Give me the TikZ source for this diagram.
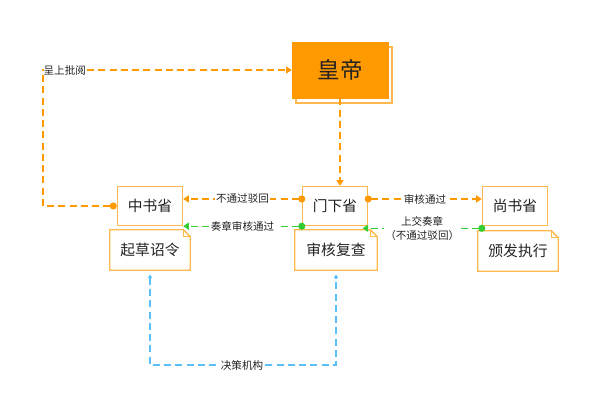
\documentclass[tikz,border=0pt]{standalone}
\usepackage{fontspec}
\setmainfont{Noto Sans CJK SC}
\usetikzlibrary{arrows.meta}
\definecolor{hdorange}{HTML}{FF9900}
\definecolor{boxorange}{HTML}{FFB84D}
\definecolor{lnorange}{HTML}{FF9900}
\definecolor{lngreen}{HTML}{33CC33}
\definecolor{lnblue}{HTML}{5BC0F8}
\definecolor{txt}{HTML}{222222}
\begin{document}
\begin{tikzpicture}[x=0.025cm, y=-0.025cm,
  office/.style={draw=boxorange, line width=1pt, fill=white, text=txt, font=\fontsize{10.5}{12}\selectfont, minimum width=1.625cm, minimum height=0.975cm, inner sep=0pt},
  notebox/.style={text=txt, font=\fontsize{10.5}{12}\selectfont, minimum width=2cm, minimum height=1cm, inner sep=0pt},
  noteline/.style={draw=boxorange, line width=1pt, line join=miter},
  lbl/.style={fill=white, text=txt, font=\fontsize{7.5}{10}\selectfont, inner sep=1pt, align=center},
  oline/.style={draw=lnorange, line width=1pt, dash pattern=on 5pt off 3pt},
  gline/.style={draw=lngreen, line width=1pt, dash pattern=on 5pt off 3pt},
  bline/.style={draw=lnblue, line width=1pt, dash pattern=on 5pt off 3pt},
  dotarrow/.style={{Circle[length=5pt]}-{Triangle[width=5pt,length=4pt]}}]
\useasboundingbox (0,0) rectangle (600,414);
\draw[boxorange, line width=1pt, fill=white] (296,47) rectangle (392,103);
\node[draw=hdorange, fill=hdorange, text=txt, font=\fontsize{16}{18}\selectfont, minimum width=2.4cm, minimum height=1.4cm] (huangdi) at (340,70) {皇帝};
\node[office] (zhongshu) at (150,206) {中书省};
\node[office] (menxia) at (335,206) {门下省};
\node[office] (shangshu) at (515,206) {尚书省};
\node[notebox] (qicao) at (150,250) {起草诏令};
\node[notebox, minimum width=2.05cm] (shenhe) at (336,250) {审核复查};
\node[notebox] (banfa) at (518,251) {颁发执行};
\foreach \n in {qicao,shenhe,banfa} {
  \draw[noteline] (\n.north west) -- ([xshift=-5pt]\n.north east) -- ([yshift=-5pt]\n.north east) -- (\n.south east) -- (\n.south west) -- cycle;
  \draw[noteline] ([xshift=-5pt]\n.north east) |- ([yshift=-5pt]\n.north east);
}
\coordinate (bend) at (43,70);
\coordinate (base) at (242,365);
\draw[oline, dotarrow] (zhongshu.west) -| (bend) -- node[lbl, pos=0, anchor=west, inner xsep=0pt] {呈上批阅} (huangdi.west);
\draw[oline, -{Triangle[width=5pt,length=4pt]}] (huangdi.south) -- (huangdi.south |- menxia.north);
\draw[oline, dotarrow, shorten <=-2.5pt] ([yshift=5pt]menxia.west) -- node[lbl] {不通过驳回} ([yshift=5pt]zhongshu.east);
\draw[gline, dotarrow, shorten <=-2.5pt] (menxia.south west) -- node[lbl] {奏章审核通过} (zhongshu.south east);
\draw[oline, dotarrow, shorten <=-2.5pt] ([yshift=5pt]menxia.east) -- node[lbl] {审核通过} ([yshift=5pt]shangshu.west);
\draw[gline, dotarrow, shorten <=-2.5pt] ([yshift=-1.5pt]shangshu.south west) -- node[lbl] {上交奏章\\（不通过驳回）} ([yshift=-1.5pt, xshift=-4pt]menxia.south east);
\draw[bline, {Triangle[width=3pt,length=2.5pt]}-{Triangle[width=3pt,length=2.5pt]}, shorten <=3pt, shorten >=3pt] (qicao.south) |- (base) node[lbl] {决策机构} -| (shenhe.south);
\end{tikzpicture}
\end{document}
